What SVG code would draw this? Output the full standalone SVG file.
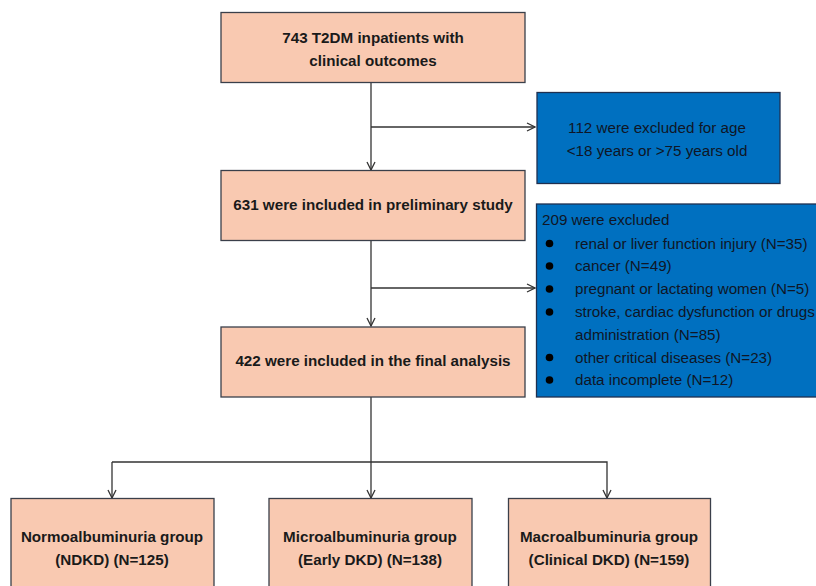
<svg xmlns="http://www.w3.org/2000/svg" width="816" height="586" viewBox="0 0 816 586">
<defs>
<style>
.pink{fill:#F9C9B1;stroke:#3a3f4a;stroke-width:1.3}
.blue{fill:#0070C0;stroke:#1f3050;stroke-width:1.3}
.bt{font-family:"Liberation Sans",Arial,sans-serif;font-weight:bold;font-size:15.2px;fill:#1a1a1a;text-anchor:middle}
.wt{font-family:"Liberation Sans",Arial,sans-serif;font-size:15.2px;fill:#0f1626}
.ln{fill:none;stroke:#333;stroke-width:1.3}
</style>
<marker id="arr" viewBox="0 0 10 10" refX="9" refY="5" markerWidth="10" markerHeight="10" markerUnits="userSpaceOnUse" orient="auto">
<path d="M1,1 L9,5 L1,9" fill="none" stroke="#333" stroke-width="1.3"/>
</marker>
</defs>
<rect width="816" height="586" fill="#fff"/>
<g id="connectors">
<path class="ln" d="M371,83 V170" marker-end="url(#arr)"/>
<path class="ln" d="M371,127 H535" marker-end="url(#arr)"/>
<path class="ln" d="M371,241 V326" marker-end="url(#arr)"/>
<path class="ln" d="M371,288 H535" marker-end="url(#arr)"/>
<path class="ln" d="M371,397 V498" marker-end="url(#arr)"/>
<path class="ln" d="M112,462 H607 V498" marker-end="url(#arr)"/>
<path class="ln" d="M112,462 V498" marker-end="url(#arr)"/>
</g>
<g id="n743">
<rect class="pink" x="221" y="12.5" width="304" height="70"/>
<text class="bt" x="373" y="42.5">743 T2DM inpatients with</text>
<text class="bt" x="373" y="66">clinical outcomes</text>
</g>
<g id="n112">
<rect class="blue" x="537" y="92.5" width="243" height="91"/>
<text class="wt" x="657" y="133" text-anchor="middle">112 were excluded for age</text>
<text class="wt" x="657" y="156" text-anchor="middle">&lt;18 years or &gt;75 years old</text>
</g>
<g id="n631">
<rect class="pink" x="221" y="170.5" width="304" height="70"/>
<text class="bt" x="373" y="209.5">631 were included in preliminary study</text>
</g>
<g id="n209">
<rect class="blue" x="536.5" y="204" width="290" height="193"/>
<text class="wt" x="542" y="225">209 were excluded</text>
<g fill="#000">
<circle cx="549.5" cy="243.5" r="3.8"/>
<circle cx="549.5" cy="266" r="3.8"/>
<circle cx="549.5" cy="289" r="3.8"/>
<circle cx="549.5" cy="312" r="3.8"/>
<circle cx="549.5" cy="357.5" r="3.8"/>
<circle cx="549.5" cy="380" r="3.8"/>
</g>
<text class="wt" x="575" y="248.5">renal or liver function injury (N=35)</text>
<text class="wt" x="575" y="271">cancer (N=49)</text>
<text class="wt" x="575" y="294">pregnant or lactating women (N=5)</text>
<text class="wt" x="575" y="317">stroke, cardiac dysfunction or drugs</text>
<text class="wt" x="575" y="339.5">administration (N=85)</text>
<text class="wt" x="575" y="362.5">other critical diseases (N=23)</text>
<text class="wt" x="575" y="385">data incomplete (N=12)</text>
</g>
<g id="n422">
<rect class="pink" x="221" y="327" width="304" height="70"/>
<text class="bt" x="373" y="366">422 were included in the final analysis</text>
</g>
<g id="normo">
<rect class="pink" x="11" y="498.5" width="203" height="100"/>
<text class="bt" x="112" y="542">Normoalbuminuria group</text>
<text class="bt" x="112" y="564.5">(NDKD) (N=125)</text>
</g>
<g id="micro">
<rect class="pink" x="269" y="498.5" width="203" height="100"/>
<text class="bt" x="370" y="542">Microalbuminuria group</text>
<text class="bt" x="370" y="564.5">(Early DKD) (N=138)</text>
</g>
<g id="macro">
<rect class="pink" x="508.5" y="498.5" width="202" height="100"/>
<text class="bt" x="609" y="542">Macroalbuminuria group</text>
<text class="bt" x="609" y="564.5">(Clinical DKD) (N=159)</text>
</g>
</svg>
